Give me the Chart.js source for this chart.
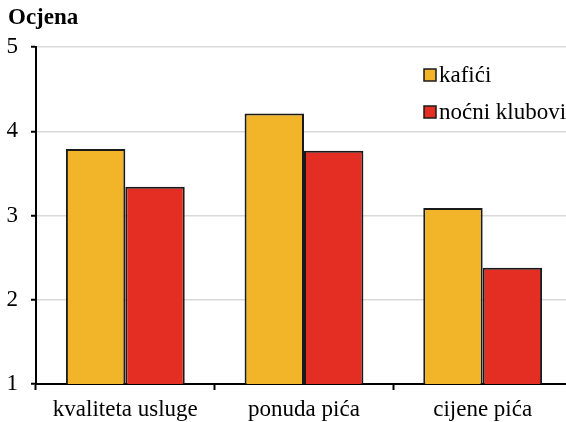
<!DOCTYPE html>
<html>
<head>
<meta charset="utf-8">
<script src="https://cdn.jsdelivr.net/npm/chart.js@4.4.1/dist/chart.umd.min.js"></script>
<style>
    html, body { margin: 0; padding: 0; background: #fff; overflow: hidden; }
    #wrap { width: 572px; height: 422px; }
</style>
</head>
<body>
<div id="wrap"><canvas id="ratingChart" width="572" height="422"></canvas></div>
<script>
const categories = ['kvaliteta usluge', 'ponuda pića', 'cijene pića'];
const cafes = [3.79, 4.21, 3.09];
const nightClubs = [3.34, 3.77, 2.38];
const yTicks = [1, 2, 3, 4, 5];

const serif = '"Liberation Serif", "Times New Roman", serif';

// Axis title and the legend box in the upper right corner
const decorPlugin = {
    id: 'decor',
    afterDraw(chart) {
        const ctx = chart.ctx;
        ctx.save();
        ctx.fillStyle = '#000';
        ctx.textBaseline = 'middle';
        ctx.font = `bold 23px ${serif}`;
        ctx.fillText('Ocjena', 8, 18);

        ctx.font = `23px ${serif}`;
        chart.data.datasets.forEach((ds, i) => {
            const y = 75 + i * 37;
            ctx.fillStyle = ds.backgroundColor;
            ctx.fillRect(424, y - 6, 12, 12);
            ctx.strokeStyle = '#1a1a1a';
            ctx.lineWidth = 1.5;
            ctx.strokeRect(424, y - 6, 12, 12);
            ctx.fillStyle = '#000';
            ctx.fillText(ds.label, 439, y + 1);
        });
        ctx.restore();
    }
};

const ctx = document.getElementById('ratingChart').getContext('2d');
new Chart(ctx, {
    type: 'bar',
    data: {
        labels: categories,
        datasets: [
            {
                label: 'kafići',
                data: cafes,
                backgroundColor: '#F2B52A',
                borderColor: '#1a1a1a',
                borderWidth: 2
            },
            {
                label: 'noćni klubovi',
                data: nightClubs,
                backgroundColor: '#E42D23',
                borderColor: '#1a1a1a',
                borderWidth: 2
            }
        ]
    },
    options: {
        responsive: false,
        animation: false,
        barPercentage: 1,
        categoryPercentage: 0.665,
        layout: { padding: { top: 47, left: 0, right: 0, bottom: 0 } },
        scales: {
            x: {
                afterFit(scale) { scale.height = 38; },
                grid: {
                    drawOnChartArea: false,
                    drawTicks: true,
                    tickLength: 6,
                    tickColor: '#000',
                    tickWidth: 2
                },
                border: { display: true, color: '#000', width: 2 },
                ticks: {
                    color: '#000',
                    padding: 6,
                    font: { family: serif, size: 23 }
                }
            },
            y: {
                min: 1,
                max: 5,
                afterFit(scale) { scale.width = 36; },
                afterBuildTicks(scale) {
                    scale.ticks = yTicks.map(v => ({ value: v }));
                },
                grid: {
                    color: '#d9d9d9',
                    lineWidth: 1.5,
                    tickLength: 5,
                    tickColor: '#000',
                    tickWidth: 2
                },
                border: { display: true, color: '#000', width: 2 },
                ticks: {
                    color: '#000',
                    padding: 13,
                    font: { family: serif, size: 23 }
                }
            }
        },
        plugins: {
            legend: { display: false },
            tooltip: { enabled: false }
        }
    },
    plugins: [decorPlugin]
});
</script>
</body>
</html>
